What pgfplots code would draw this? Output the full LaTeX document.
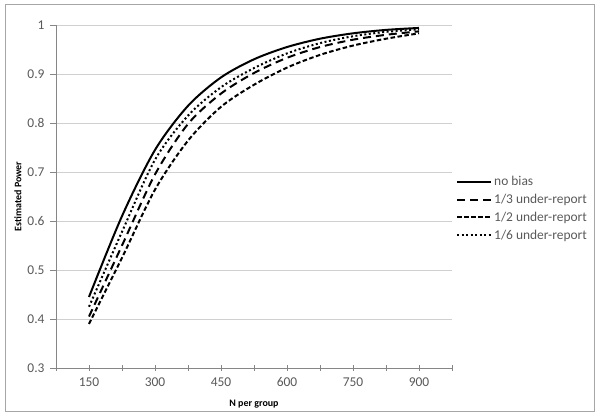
\documentclass[border=0pt]{standalone}
\usepackage{fontspec}
\setmainfont{Carlito}
\usepackage{pgfplots}
\pgfplotsset{compat=1.18}
\definecolor{ticktext}{HTML}{595959}
\definecolor{axisgray}{HTML}{868686}
\definecolor{gridgray}{HTML}{D0D0D0}
\definecolor{bordergray}{HTML}{A6A6A6}
\begin{document}
\begin{tikzpicture}
\path[use as bounding box] (0,0) rectangle (600bp,420bp);
\draw[bordergray, line width=1bp] (5bp,8bp) rectangle (594bp,415bp);
\begin{axis}[
  at={(56bp,52bp)}, anchor=south west,
  scale only axis, width=396bp, height=343bp,
  xmin=75, xmax=975, ymin=0.3, ymax=1,
  axis lines*=left,
  axis line style={axisgray, line width=0.8bp},
  xtick={150,300,450,600,750,900},
  minor xtick={75,225,375,525,675,825,975},
  ytick={0.3,0.4,0.5,0.6,0.7,0.8,0.9,1},
  yticklabels={0.3,0.4,0.5,0.6,0.7,0.8,0.9,1},
  xtick align=center,
  ytick align=outside,
  major tick length=6bp, minor tick length=6bp,
  every tick/.style={axisgray, line width=0.8bp},
  minor tick style={axisgray, line width=0.8bp},
  ymajorgrids, grid style={gridgray, line width=0.8bp},
  tick label style={font=\fontsize{13.5}{15}\selectfont, text=ticktext},
  /pgf/number format/assume math mode=true,
  xticklabel style={yshift=-3bp},
  yticklabel style={xshift=-2bp},
  xlabel={\textbf{N per group}}, ylabel={\textbf{Estimated Power}},
  label style={font=\fontsize{13}{15}\selectfont, text=black!85},
  every axis x label/.style={at={(axis description cs:0.5,-0.105)}, anchor=center},
  every axis y label/.style={at={(axis description cs:-0.096,0.5)}, anchor=center, rotate=90},
  legend style={at={(1,0.465)}, anchor=west, xshift=4bp, draw=none, fill=none,
    font=\fontsize{13.5}{15}\selectfont, text=ticktext, row sep=3bp,
    inner xsep=0pt, nodes={inner xsep=2bp}},
  legend cell align=left,
  legend image code/.code={\draw[#1] (0bp,0bp) -- (34bp,0bp);},
  clip=false,
]
\addplot[black, line width=2bp, smooth, tension=0.5] coordinates {
(150,0.445) (225,0.610) (300,0.745) (375,0.835) (450,0.893) (525,0.930)
(600,0.955) (675,0.972) (750,0.983) (825,0.990) (900,0.994)};
\addlegendentry{no bias}
\addplot[black, line width=2bp, smooth, tension=0.5, dash pattern=on 8bp off 5bp] coordinates {
(150,0.405) (225,0.550) (300,0.695) (375,0.798) (450,0.860) (525,0.902)
(600,0.933) (675,0.955) (750,0.970) (825,0.980) (900,0.987)};
\addlegendentry{1/3 under-report}
\addplot[black, line width=2bp, smooth, tension=0.5, dash pattern=on 4.5bp off 2.5bp] coordinates {
(150,0.390) (225,0.525) (300,0.664) (375,0.764) (450,0.833) (525,0.878)
(600,0.913) (675,0.939) (750,0.958) (825,0.972) (900,0.983)};
\addlegendentry{1/2 under-report}
\addplot[black, line width=2bp, smooth, tension=0.5, dash pattern=on 2bp off 2.5bp] coordinates {
(150,0.425) (225,0.578) (300,0.725) (375,0.815) (450,0.873) (525,0.912)
(600,0.942) (675,0.963) (750,0.977) (825,0.986) (900,0.991)};
\addlegendentry{1/6 under-report}
\end{axis}
\end{tikzpicture}
\end{document}
